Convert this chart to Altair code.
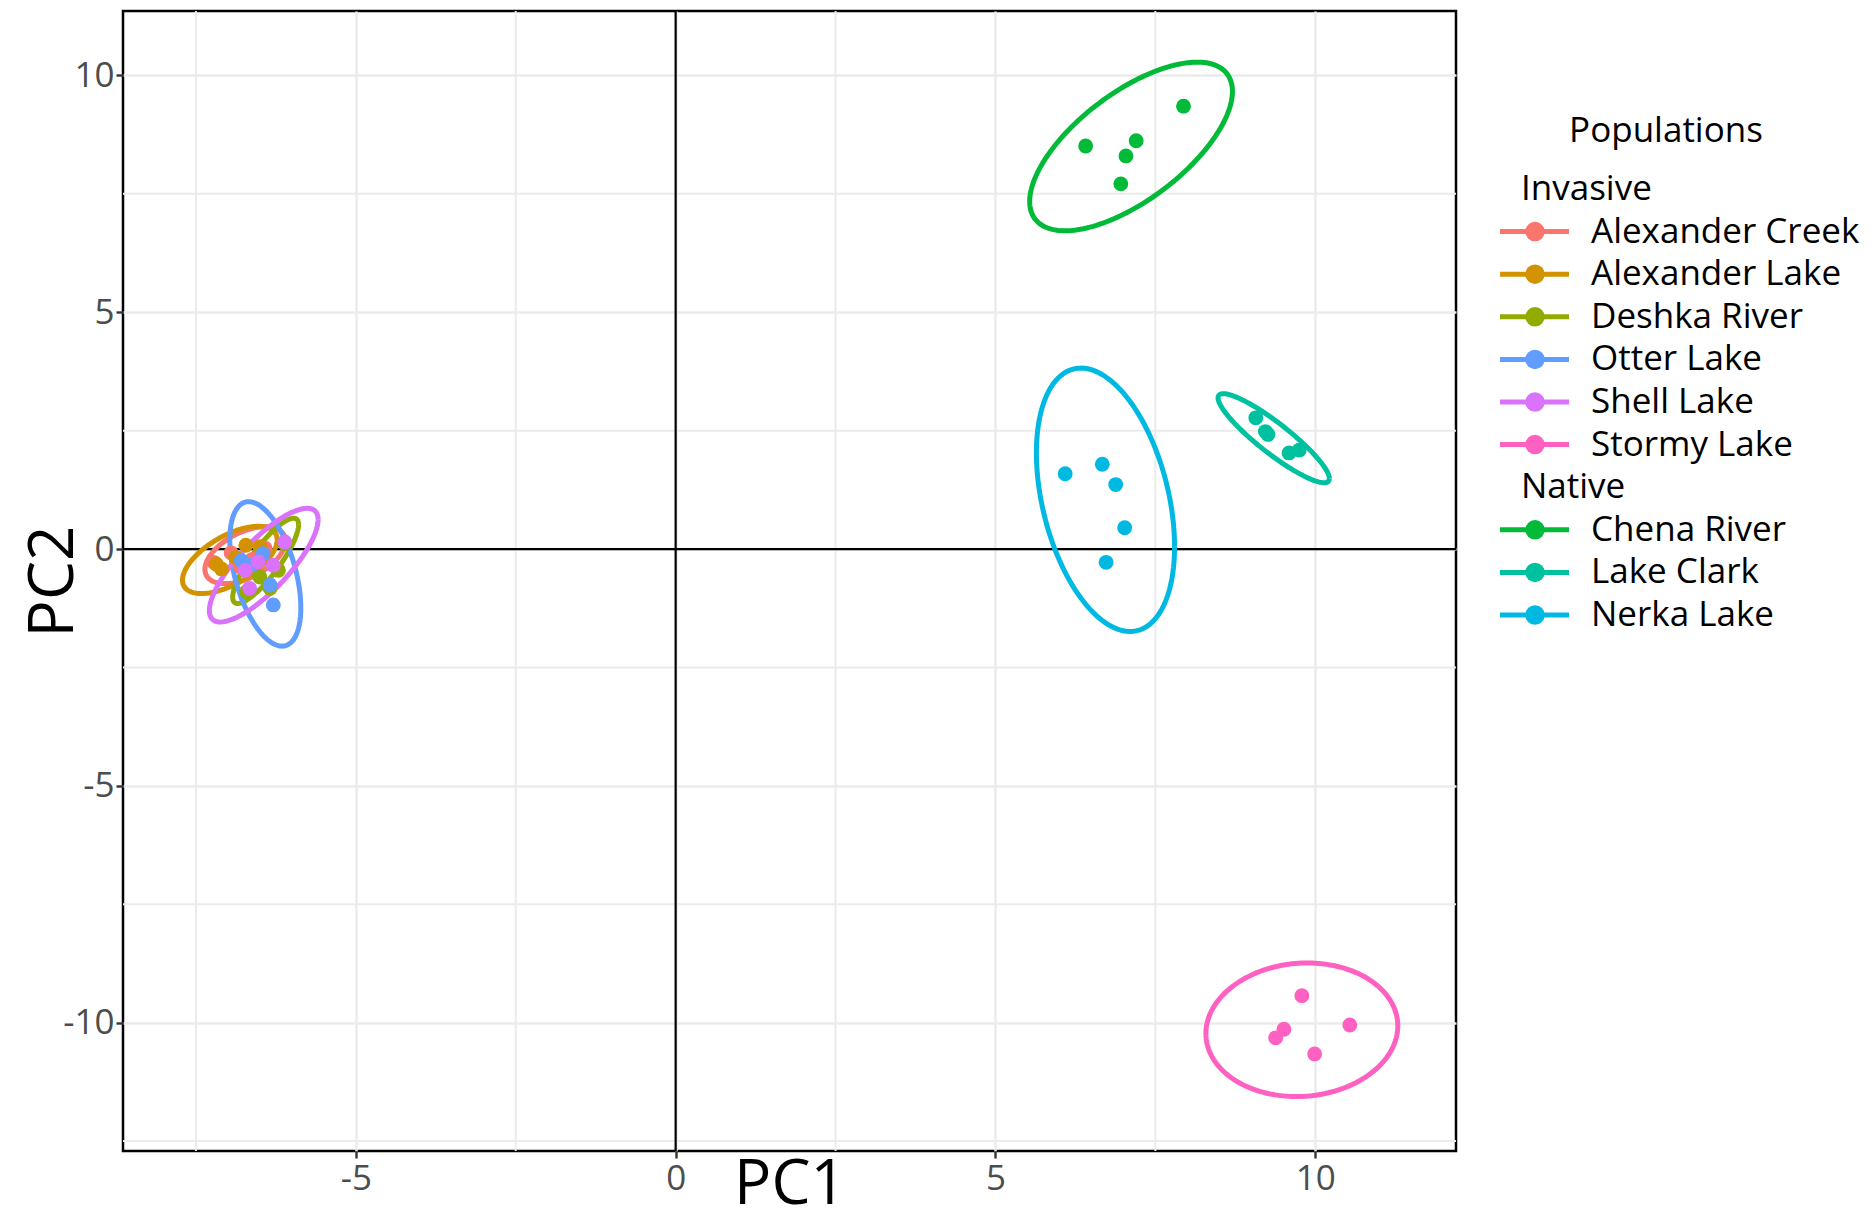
import altair as alt
import numpy as np
import pandas as pd

# ---------------- data ----------------
populations = ["Alexander Creek", "Alexander Lake", "Deshka River", "Chena River",
               "Lake Clark", "Nerka Lake", "Otter Lake", "Shell Lake", "Stormy Lake"]
colors = ["#F8766D", "#D39200", "#93AA00", "#00BA38", "#00C19F", "#00B9E3",
          "#619CFF", "#DB72FB", "#FF61C3"]

pc1 = {
    "Alexander Creek": [-7.22, -6.95, -6.62, -6.42, -6.80],
    "Alexander Lake": [-7.18, -7.10, -6.72, -6.50, -6.88],
    "Deshka River": [-6.34, -6.21, -6.71, -6.11, -6.50],
    "Chena River": [6.41, 7.20, 7.04, 6.96, 7.94],
    "Lake Clark": [9.07, 9.22, 9.26, 9.59, 9.75],
    "Nerka Lake": [6.09, 6.67, 6.88, 7.02, 6.73],
    "Otter Lake": [-6.29, -6.34, -6.45, -6.63, -6.79],
    "Shell Lake": [-6.73, -6.53, -6.29, -6.66, -6.11],
    "Stormy Lake": [9.79, 9.51, 9.38, 9.99, 10.54],
}
pc2 = {
    "Alexander Creek": [-0.28, -0.08, -0.22, 0.02, -0.38],
    "Alexander Lake": [-0.32, -0.42, 0.08, 0.05, -0.18],
    "Deshka River": [-0.83, -0.45, -0.90, 0.11, -0.59],
    "Chena River": [8.51, 8.62, 8.30, 7.71, 9.35],
    "Lake Clark": [2.77, 2.48, 2.42, 2.03, 2.09],
    "Nerka Lake": [1.59, 1.79, 1.36, 0.45, -0.28],
    "Otter Lake": [-1.18, -0.76, -0.10, -0.34, -0.24],
    "Shell Lake": [-0.45, -0.27, -0.34, -0.83, 0.15],
    "Stormy Lake": [-9.43, -10.14, -10.32, -10.66, -10.05],
}

# ellipse parameters: centre, half extents, correlation
ell_cx = [-6.73, -6.97, -6.41, 7.12, 9.35, 6.72, -6.415, -6.44, 9.79]
ell_cy = [-0.13, -0.23, -0.25, 8.50, 2.34, 1.04, -0.525, -0.34, -10.15]
ell_hx = [0.63, 0.74, 0.515, 1.585, 0.87, 1.08, 0.555, 0.85, 1.50]
ell_hy = [0.60, 0.71, 0.90, 1.78, 0.94, 2.78, 1.525, 1.20, 1.41]
ell_r = [0.5, 0.6, 0.85, 0.652, -0.905, -0.356, -0.47, 0.80, 0.057]

x_ticks = [-5, 0, 5, 10]
y_ticks = [-10, -5, 0, 5, 10]
x_minor = [-7.5, -2.5, 2.5, 7.5]
y_minor = [-12.5, -7.5, -2.5, 2.5, 7.5]
x_domain = [-8.64, 12.2]
y_domain = [-12.71, 11.36]

invasive = ["Alexander Creek", "Alexander Lake", "Deshka River", "Otter Lake",
            "Shell Lake", "Stormy Lake"]
native = ["Chena River", "Lake Clark", "Nerka Lake"]
legend_title = "Populations"

# ---------------- tables ----------------
pts = pd.DataFrame([
    {"population": g, "PC1": x, "PC2": y}
    for g in populations for x, y in zip(pc1[g], pc2[g])
])

t = np.linspace(0, 2 * np.pi, 181)
ell_rows = []
for i, g in enumerate(populations):
    r = ell_r[i]
    xs = ell_cx[i] + ell_hx[i] * np.cos(t)
    ys = ell_cy[i] + ell_hy[i] * (r * np.cos(t) + np.sqrt(1 - r * r) * np.sin(t))
    for k, (x, y) in enumerate(zip(xs, ys)):
        ell_rows.append({"population": g, "PC1": x, "PC2": y, "idx": k})
ell = pd.DataFrame(ell_rows)

x_scale = alt.Scale(domain=x_domain, nice=False, zero=False)
y_scale = alt.Scale(domain=y_domain, nice=False, zero=False)
color_scale = alt.Scale(domain=populations, range=colors)

label_expr = "datum.value < 0 ? '-' + abs(datum.value) : '' + datum.value"
FONT = "Open Sans"

x_axis = alt.Axis(values=x_ticks, title="PC1", labelExpr=label_expr,
                  titleFont=FONT, titleFontSize=62, titleFontWeight="normal",
                  titleColor="black", titleY=52, titleBaseline="alphabetic",
                  labelFont=FONT, labelFontSize=35, labelColor="#4D4D4D",
                  labelPadding=3, tickSize=7, tickWidth=2.4, tickColor="#333333",
                  domain=False, gridColor="#EBEBEB", gridWidth=2.5)
y_axis = alt.Axis(values=y_ticks, title="PC2", labelExpr=label_expr,
                  titleFont=FONT, titleFontSize=62, titleFontWeight="normal",
                  titleColor="black", titleX=-70, titleBaseline="middle",
                  labelFont=FONT, labelFontSize=35, labelColor="#4D4D4D",
                  labelPadding=2, tickSize=7, tickWidth=2.4, tickColor="#333333",
                  domain=False, gridColor="#EBEBEB", gridWidth=2.5)

points = alt.Chart(pts).mark_circle(size=220, opacity=1).encode(
    x=alt.X("PC1:Q", scale=x_scale, axis=x_axis),
    y=alt.Y("PC2:Q", scale=y_scale, axis=y_axis),
    color=alt.Color("population:N", scale=color_scale, legend=None),
)

ellipses = alt.Chart(ell).mark_line(strokeWidth=5).encode(
    x=alt.X("PC1:Q", scale=x_scale),
    y=alt.Y("PC2:Q", scale=y_scale),
    color=alt.Color("population:N", scale=color_scale, legend=None),
    detail="population:N",
    order="idx:Q",
)

minor_x = alt.Chart(pd.DataFrame({"v": x_minor})).mark_rule(
    color="#EBEBEB", strokeWidth=2).encode(x=alt.X("v:Q", scale=x_scale))
minor_y = alt.Chart(pd.DataFrame({"v": y_minor})).mark_rule(
    color="#EBEBEB", strokeWidth=2).encode(y=alt.Y("v:Q", scale=y_scale))
zero_x = alt.Chart(pd.DataFrame({"v": [0]})).mark_rule(
    color="black", strokeWidth=2.2).encode(x=alt.X("v:Q", scale=x_scale))
zero_y = alt.Chart(pd.DataFrame({"v": [0]})).mark_rule(
    color="black", strokeWidth=2.2).encode(y=alt.Y("v:Q", scale=y_scale))

main = alt.layer(minor_x, minor_y, zero_x, zero_y, ellipses, points).properties(
    width=1333, height=1140,
    view=alt.ViewBackground(stroke="black", strokeWidth=2.5),
)

# ---------------- legend ----------------
legend_labels = ["Invasive"] + invasive + ["Native"] + native
legend_kind = ["header"] + ["item"] * len(invasive) + ["header"] + ["item"] * len(native)
leg = pd.DataFrame({"label": legend_labels, "kind": legend_kind})

ly = alt.Y("label:N", sort=legend_labels, axis=None,
           scale=alt.Scale(type="point", range=[178, 604], padding=0))
leg_base = alt.Chart(leg)
items = leg_base.transform_filter("datum.kind == 'item'")
leg_rule = items.mark_rule(strokeWidth=5).encode(
    x=alt.value(21), x2=alt.value(90), y=ly,
    color=alt.Color("label:N", scale=color_scale, legend=None))
leg_dot = items.mark_circle(size=380, opacity=1).encode(
    x=alt.value(56), y=ly,
    color=alt.Color("label:N", scale=color_scale, legend=None))
leg_text = items.mark_text(
    align="left", baseline="middle", font=FONT, fontSize=35, color="black").encode(
    x=alt.value(112), y=ly, text="label:N")
leg_head = leg_base.transform_filter("datum.kind == 'header'").mark_text(
    align="left", baseline="middle", font=FONT, fontSize=35, color="black").encode(
    x=alt.value(42), y=ly, text="label:N")
leg_title = alt.Chart(pd.DataFrame({"label": [legend_title]})).mark_text(
    align="center", baseline="middle", font=FONT, fontSize=35, color="black").encode(
    x=alt.value(187), y=alt.value(120), text="label:N")

legend = alt.layer(leg_rule, leg_dot, leg_text, leg_head, leg_title).properties(
    width=365, height=1140)

chart = alt.hconcat(main, legend, spacing=20).properties(
    padding={"left": 12, "top": 0, "right": 0, "bottom": 6}
).configure_view(strokeWidth=0).configure_axis(grid=True)

chart.save("out.html", embed_options={"renderer": "svg", "actions": False})
